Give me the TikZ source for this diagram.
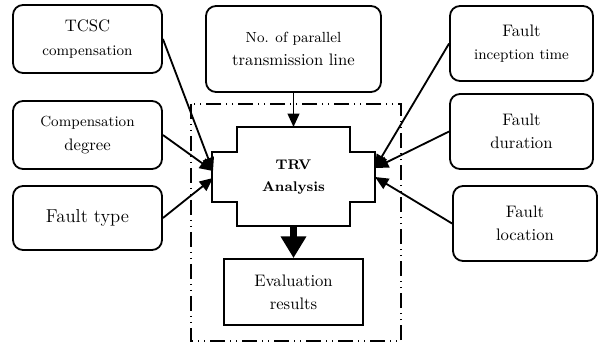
\documentclass[tikz,border=0pt]{standalone}
\usetikzlibrary{arrows.meta,positioning}
\newcommand{\lsz}{\fontsize{10}{14}\selectfont}
\newcommand{\ssz}{\fontsize{8.8}{14}\selectfont}
\begin{document}
\begin{tikzpicture}[x=0.6pt,y=-0.6pt]
\tikzstyle{every node}+=[inner sep=0pt,font=\lsz]
\tikzstyle{factor}=[draw,rounded corners=6pt,line width=1.1pt,align=center]
\tikzstyle{feed}=[line width=1.1pt,-{Triangle[length=8pt,width=7pt]}]
\useasboundingbox (0,0) rectangle (598,343);
\draw [line width=0.9pt,dash pattern=on 9pt off 3pt on 0.6pt off 3pt on 0.6pt off 3pt] (191,104) rectangle (401,341);
\node [factor,minimum width=89.4pt,minimum height=40.8pt] (tcsc) at (87.5,39) {TCSC\\\ssz compensation};
\node [factor,minimum width=89.4pt,minimum height=40.8pt] (comp) at (87.5,135) {\ssz Compensation\\degree};
\node [factor,minimum width=89.4pt,minimum height=38.4pt] (ftype) at (87.5,218) {\fontsize{11.2}{15}\selectfont Fault type};
\node [factor,minimum width=105pt,minimum height=51.6pt] (npar) at (293.5,49) {\ssz No. of parallel\\transmission line};
\node [factor,minimum width=85.8pt,minimum height=45pt] (finc) at (521.5,43.5) {Fault\\\ssz inception time};
\node [factor,minimum width=85.8pt,minimum height=45pt] (fdur) at (521.5,131.5) {Fault\\duration};
\node [factor,minimum width=86.4pt,minimum height=45pt] (floc) at (525,223.5) {Fault\\location};
\draw [line width=1.1pt] (237,127) -- (350,127) -- (350,152) -- (375,152) -- (375,202) -- (350,202) -- (350,226) -- (237,226) -- (237,202) -- (212,202) -- (212,152) -- (237,152) -- cycle;
\node [font=\bfseries\fontsize{8.4}{13.2}\selectfont,align=center,minimum width=97.8pt,minimum height=30pt] (trv) at (293.5,177) {TRV\\Analysis};
\node [draw,line width=1.1pt,minimum width=83.4pt,minimum height=39.6pt,align=center] (eval) at (293.5,292) {Evaluation\\results};
\coordinate (trvN) at (293.5,127);
\coordinate (trvS) at (293.5,226);
\coordinate (lhi) at (213,171);
\coordinate (llo) at (213,178);
\coordinate (rhi) at (375,168);
\coordinate (rlo) at (375,177);
\draw [feed] (tcsc.east) -- (lhi);
\draw [feed] (comp.east) -- (lhi);
\draw [feed] (ftype.east) -- (llo);
\draw [feed] (finc.west) -- (rhi);
\draw [feed] (fdur.west) -- (rhi);
\draw [feed] (floc.west) -- (rlo);
\draw [feed] (npar.south) -- (trvN);
\draw [line width=4pt,-{Triangle[length=13pt,width=14.6pt]}] (trvS) -- (eval.north);
\end{tikzpicture}
\end{document}
